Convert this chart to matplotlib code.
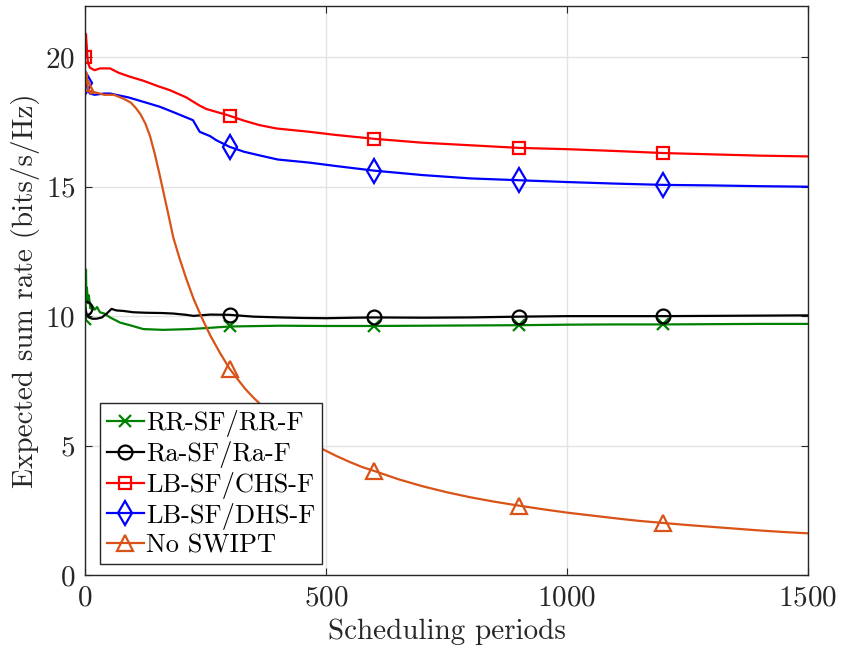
import numpy as np
import matplotlib
matplotlib.use("Agg")
import matplotlib.pyplot as plt

plt.rcParams['font.family'] = ['cmr10', 'DejaVu Serif']
plt.rcParams['mathtext.fontset'] = 'cm'
plt.rcParams['axes.formatter.use_mathtext'] = True

# ---------------- data ----------------
marker_x = [1, 300, 600, 900, 1200]

rr_x = [1, 2, 3, 4, 6, 8, 11, 15, 20, 25, 31, 40, 52, 73, 93, 121, 162, 218, 260,
        300, 405, 500, 600, 700, 800, 900, 1000, 1100, 1200, 1300, 1400, 1500]
rr_y = [9.9, 11.8, 10.6, 11.1, 10.5, 10.8, 10.3, 10.4, 10.25, 10.35, 10.15, 10.1,
        9.95, 9.75, 9.65, 9.5, 9.47, 9.5, 9.55, 9.6, 9.63, 9.62, 9.62, 9.63, 9.64,
        9.65, 9.67, 9.68, 9.68, 9.69, 9.7, 9.7]

ra_x = [1, 3, 8, 15, 24, 35, 45, 55, 65, 80, 100, 128, 160, 183, 210, 225, 260,
        300, 350, 405, 450, 500, 560, 600, 700, 800, 900, 1000, 1100, 1200, 1300,
        1400, 1500]
ra_y = [10.3, 10.1, 9.95, 9.9, 9.9, 9.95, 10.1, 10.28, 10.22, 10.2, 10.15, 10.13,
        10.12, 10.1, 10.05, 10.01, 10.06, 10.05, 9.98, 9.95, 9.93, 9.92, 9.94,
        9.95, 9.94, 9.95, 9.98, 10.0, 10.0, 10.0, 10.01, 10.02, 10.03]

chs_x = [1, 2, 4, 6, 10, 20, 31, 52, 70, 93, 120, 155, 176, 210, 238, 252, 293,
         300, 330, 362, 397, 466, 520, 600, 700, 800, 900, 1000, 1100, 1200,
         1300, 1400, 1500]
chs_y = [20.0, 20.9, 20.3, 19.8, 19.6, 19.5, 19.57, 19.57, 19.4, 19.25, 19.1,
         18.86, 18.73, 18.45, 18.13, 18.0, 17.78, 17.74, 17.55, 17.38, 17.25,
         17.12, 17.0, 16.85, 16.7, 16.6, 16.5, 16.45, 16.38, 16.3, 16.25, 16.2,
         16.17]

dhs_x = [1, 2, 5, 10, 20, 40, 52, 90, 121, 155, 190, 224, 238, 260, 272, 300,
         330, 362, 400, 466, 520, 600, 700, 800, 900, 1000, 1100, 1200, 1300,
         1400, 1500]
dhs_y = [19.0, 19.2, 18.8, 18.6, 18.55, 18.6, 18.6, 18.45, 18.28, 18.09, 17.83,
         17.57, 17.12, 16.95, 16.8, 16.54, 16.35, 16.21, 16.05, 15.93, 15.8, 15.62,
         15.45, 15.32, 15.25, 15.18, 15.12, 15.07, 15.05, 15.02, 15.0]

ns_x = [1, 3, 6, 12, 20, 40, 60, 80, 95, 105, 115, 125, 135, 145, 155, 165, 175,
        183, 195, 210, 225, 242, 260, 280, 300, 316, 332, 349, 375, 400, 425, 450,
        487, 520, 550, 575, 600, 650, 700, 750, 800, 850, 900, 950, 1000, 1050,
        1110, 1150, 1200, 1250, 1300, 1350, 1400, 1450, 1500]
ns_y = [19.0, 19.4, 18.8, 18.6, 18.65, 18.55, 18.55, 18.4, 18.25, 18.05, 17.8,
        17.45, 16.95, 16.25, 15.45, 14.6, 13.75, 13.05, 12.3, 11.45, 10.68, 9.95,
        9.25, 8.58, 7.97, 7.58, 7.2, 6.86, 6.4, 6.0, 5.65, 5.33, 4.92, 4.61, 4.36,
        4.17, 4.02, 3.7, 3.43, 3.2, 3.0, 2.83, 2.68, 2.54, 2.41, 2.3, 2.17, 2.09,
        2.01, 1.93, 1.86, 1.79, 1.72, 1.66, 1.61]

labels = ['RR-SF/RR-F', 'Ra-SF/Ra-F', 'LB-SF/CHS-F', 'LB-SF/DHS-F', 'No SWIPT']
colors = ['#008000', '#000000', '#ff0000', '#0000ff', '#D95319']
markers = ['x', 'o', 's', 'd', '^']
msizes = [9, 10, 9, 12, 11]

series = [(rr_x, rr_y), (ra_x, ra_y), (chs_x, chs_y), (dhs_x, dhs_y), (ns_x, ns_y)]

# ---------------- figure ----------------
fig = plt.figure(figsize=(8.41, 6.54), dpi=100)
ax = fig.add_axes([85 / 841, 1 - 575 / 654, 723 / 841, 569.5 / 654])

for (xs, ys), lab, c, m, ms in zip(series, labels, colors, markers, msizes):
    xs = np.asarray(xs)
    idx = [int(np.argmin(np.abs(xs - mx))) for mx in marker_x]
    ax.plot(xs, ys, color=c, lw=1.6, marker=m, markevery=idx, ms=ms,
            mfc='none', mec=c, mew=1.6, label=lab)

ax.set_xlim(0, 1500)
ax.set_ylim(0, 22)
ax.set_xticks([0, 500, 1000, 1500])
ax.set_yticks([0, 5, 10, 15, 20])
ax.grid(True, color='#e3e3e3', lw=1.0)
ax.set_axisbelow(True)

tc = '#262626'
for s in ax.spines.values():
    s.set_color(tc)
    s.set_linewidth(1.0)
ax.tick_params(direction='in', top=True, right=True, length=5, width=0.8,
               colors=tc, labelsize=21, pad=7)

ax.set_xlabel('Scheduling periods', fontsize=21, color=tc, labelpad=5)
ax.set_ylabel('Expected sum rate (bits/s/Hz)', fontsize=21, color=tc, labelpad=4)

leg = ax.legend(loc='lower left', bbox_to_anchor=(15 / 723, 11 / 569.5),
                borderaxespad=0, fontsize=19, fancybox=False, framealpha=1,
                edgecolor=tc, handlelength=1.4, handletextpad=0.1,
                labelspacing=0.15, borderpad=0.25)
leg.get_frame().set_linewidth(1.0)

fig.savefig('out.png', dpi=100)
